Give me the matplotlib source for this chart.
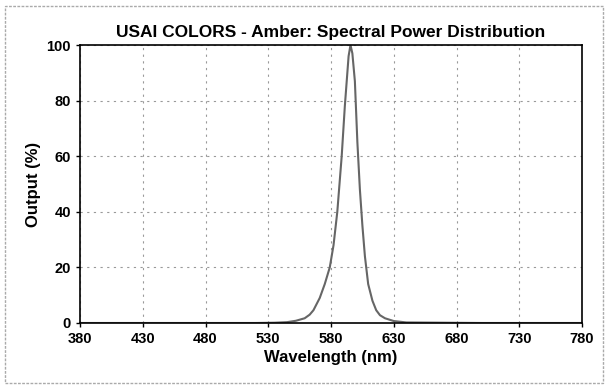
import matplotlib
matplotlib.use("Agg")
import matplotlib.pyplot as plt
from matplotlib.patches import Rectangle

# spectrum
wavelength = [380, 450, 520, 535, 545, 552, 559, 563, 566, 571, 575, 579, 582,
              585, 588.5, 591, 592.5, 594, 595.5, 597, 599, 601, 603, 605,
              607, 609.6, 613, 616, 619, 623, 630, 640, 700, 780]
output = [0, 0, 0, 0.1, 0.3, 0.8, 1.7, 3, 4.6, 9, 14, 20, 28,
          40, 60, 78, 87, 96, 100, 97, 87, 65, 48, 35,
          24, 14, 8, 4.6, 2.8, 1.7, 0.7, 0.2, 0, 0]

xticks = [380, 430, 480, 530, 580, 630, 680, 730, 780]
yticks = [0, 20, 40, 60, 80, 100]

plt.rcParams['font.family'] = ['Liberation Sans', 'DejaVu Sans']
plt.rcParams['font.weight'] = 'bold'

fig = plt.figure(figsize=(6.08, 3.87), dpi=100)
ax = fig.add_axes([0.1316, 0.1654, 0.8257, 0.7183])

ax.plot(wavelength, output, color='#666666', linewidth=1.5)

ax.set_xlim(380, 780)
ax.set_ylim(0, 100)
ax.set_xticks(xticks)
ax.set_yticks(yticks)
ax.tick_params(labelsize=10.5, length=3, direction='out', width=1)
for lab in ax.get_xticklabels() + ax.get_yticklabels():
    lab.set_fontweight('bold')
ax.grid(True, color='#999999', linestyle=(0, (2, 4)), linewidth=0.8)
for s in ax.spines.values():
    s.set_linewidth(1.2)

ax.set_xlabel('Wavelength (nm)', fontsize=12, fontweight='bold', labelpad=3)
ax.set_ylabel('Output (%)', fontsize=12, fontweight='bold', labelpad=4)
ax.set_title('USAI COLORS - Amber: Spectral Power Distribution',
             fontsize=12.5, fontweight='bold', pad=6)

# scanned page border
fig.patches.append(Rectangle((0.008, 0.01), 0.984, 0.975, transform=fig.transFigure,
                             fill=False, edgecolor='#aaaaaa', linewidth=1,
                             linestyle=(0, (2, 1))))

fig.savefig('out.png', dpi=100)
